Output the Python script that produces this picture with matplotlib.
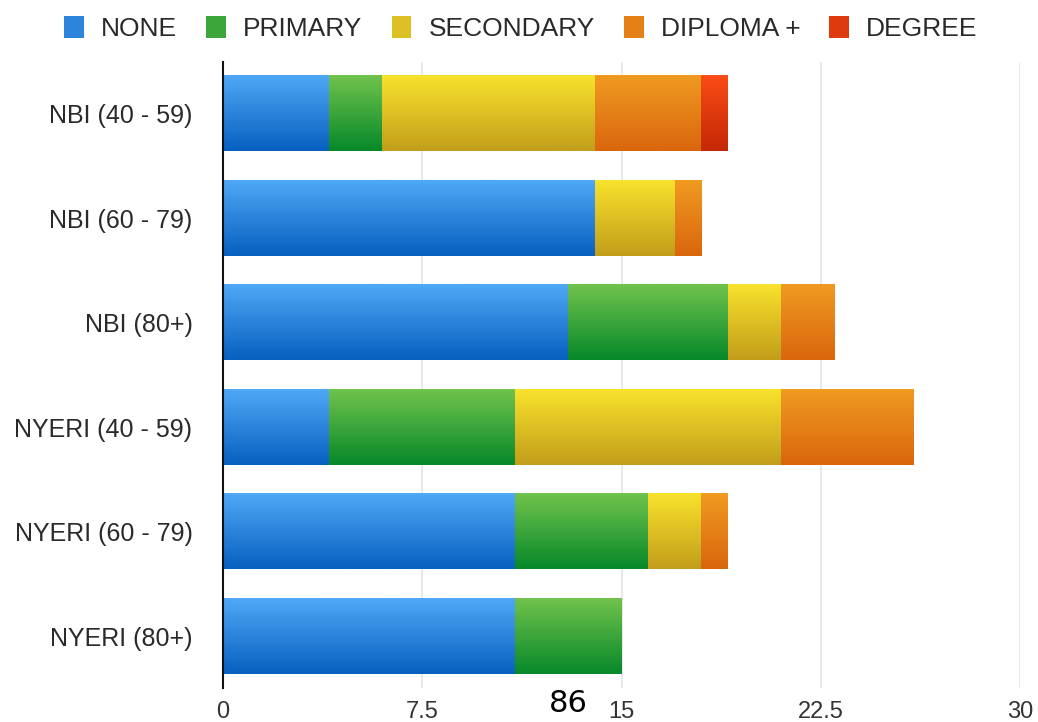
import numpy as np
import matplotlib
matplotlib.use("Agg")
import matplotlib.pyplot as plt
from matplotlib.colors import LinearSegmentedColormap
from matplotlib.patches import Patch

# data
groups = ["NBI (40 - 59)", "NBI (60 - 79)", "NBI (80+)",
          "NYERI (40 - 59)", "NYERI (60 - 79)", "NYERI (80+)"]
levels = ["NONE", "PRIMARY", "SECONDARY", "DIPLOMA +", "DEGREE"]
none_vals = [4, 14, 13, 4, 11, 11]
primary_vals = [2, 0, 6, 7, 5, 4]
secondary_vals = [8, 3, 2, 10, 2, 0]
diploma_vals = [4, 1, 2, 5, 1, 0]
degree_vals = [1, 0, 0, 0, 0, 0]
xticks = [0, 7.5, 15, 22.5, 30]
xtick_labels = ["0", "7.5", "15", "22.5", "30"]

# top / bottom colours of the gradient for each series
grad = [("#4fa8f6", "#0860c0"),
        ("#70c24c", "#07892a"),
        ("#f8e22c", "#c29e1a"),
        ("#f09a20", "#da660e"),
        ("#fa4c16", "#c42806")]

series = [none_vals, primary_vals, secondary_vals, diploma_vals, degree_vals]

plt.rcParams['font.family'] = ['Liberation Sans', 'DejaVu Sans']

fig = plt.figure(figsize=(10.38, 7.22), dpi=100)
ax = fig.add_axes([0.2148, 0.0464, 0.768, 0.8684])

bar_h = 0.72
grad_img = np.linspace(0, 1, 64).reshape(-1, 1)
left = np.zeros(len(groups))
for vals, (c1, c2) in zip(series, grad):
    cmap = LinearSegmentedColormap.from_list("g", [c1, c2])
    for i, v in enumerate(vals):
        if v <= 0:
            continue
        ax.imshow(grad_img, cmap=cmap, aspect='auto', interpolation='bilinear',
                  extent=[left[i], left[i] + v, i + bar_h / 2, i - bar_h / 2],
                  zorder=3)
    left += np.array(vals)

ax.set_xlim(0, 30)
ax.set_ylim(len(groups) - 0.5, -0.5)
ax.set_yticks(range(len(groups)))
ax.set_yticklabels(groups, fontsize=18, color="#2a2a2a")
ax.set_xticks(xticks)
ax.set_xticklabels(xtick_labels, fontsize=17, color="#333333")
ax.tick_params(axis='both', length=0)
ax.tick_params(axis='y', pad=22)
ax.tick_params(axis='x', pad=9)
ax.grid(axis='x', color="#e4e4e4", linewidth=1.2, zorder=0)
ax.set_axisbelow(True)
for s in ["top", "right", "bottom"]:
    ax.spines[s].set_visible(False)
ax.spines["left"].set_color("#111111")
ax.spines["left"].set_linewidth(1.5)
ax.spines["left"].set_zorder(5)

# legend swatches use the middle of each gradient
handles = [Patch(facecolor=((int(c1[1:3], 16) + int(c2[1:3], 16)) / 510,
                            (int(c1[3:5], 16) + int(c2[3:5], 16)) / 510,
                            (int(c1[5:7], 16) + int(c2[5:7], 16)) / 510))
           for c1, c2 in grad]
fig.legend(handles, levels, loc="center", bbox_to_anchor=(0.502, 0.961), ncol=5,
           frameon=False, fontsize=19, handlelength=0.75, handleheight=0.9,
           columnspacing=1.1, handletextpad=0.65, labelcolor="#2a2a2a")

fig.text(568 / 1038, 1 - 703 / 722, "86", fontsize=22, ha="center", va="center",
         family=['Liberation Sans Narrow', 'DejaVu Sans'])

fig.savefig("out.png", dpi=100)
